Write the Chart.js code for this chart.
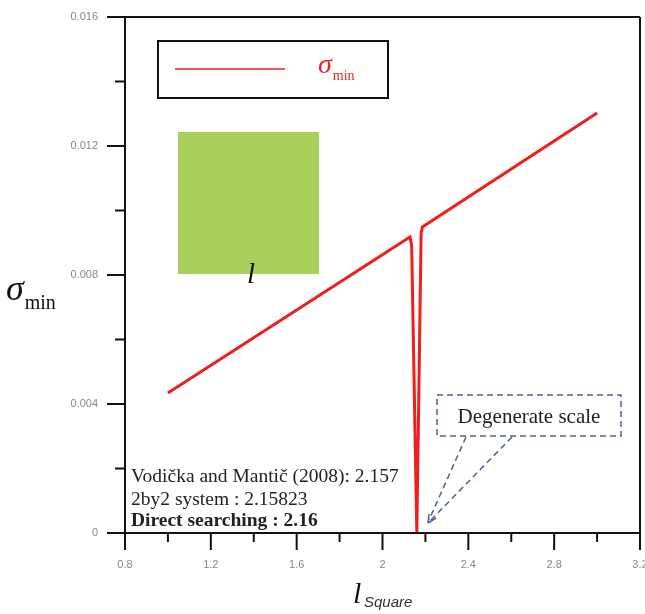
<!DOCTYPE html>
<html>
<head>
<meta charset="utf-8">
<script src="https://cdn.jsdelivr.net/npm/chart.js@4.4.1/dist/chart.umd.min.js"></script>
<style>
    html, body { margin: 0; padding: 0; background: #fff; }
    #wrap { width: 645px; height: 614px; position: relative; }
</style>
</head>
<body>
<div id="wrap"><canvas id="sigmaChart"></canvas></div>
<script>
// values
const lSquare = [1.0, 2.128, 2.136, 2.16, 2.18, 2.186, 3.0]
const sigmaMin = [0.00434, 0.00918, 0.0089, 0, 0.0093, 0.00949, 0.01302]
const xTicks = [0.8, 1.2, 1.6, 2.0, 2.4, 2.8, 3.2]
const xTickLabels = ['0.8', '1.2', '1.6', '2', '2.4', '2.8', '3.2']
const yTicks = [0, 0.004, 0.008, 0.012, 0.016]
const yTickLabels = ['0', '0.004', '0.008', '0.012', '0.016']
const noteLines = ['Vodička and Mantič (2008): 2.157', '2by2 system : 2.15823', 'Direct searching : 2.16']
const calloutText = 'Degenerate scale'

const RED = '#ee1f1f'
const SERIF = '"Liberation Serif", "DejaVu Serif", serif'
const SANS = '"Liberation Sans", Arial, sans-serif'

function midpoints(arr) {
    const res = []
    for (let i = 0; i < arr.length - 1; i++) res.push((arr[i] + arr[i + 1]) / 2)
    return res
}

function drawSigma(ctx, x, y, bigSize, smallSize, color) {
    ctx.fillStyle = color
    ctx.textAlign = 'left'
    ctx.textBaseline = 'alphabetic'
    ctx.font = `italic ${bigSize}px ${SERIF}`
    ctx.fillText('σ', x, y)
    const w = ctx.measureText('σ').width
    ctx.font = `${smallSize}px ${SERIF}`
    ctx.fillText('min', x + w + 1, y + bigSize * 0.24)
}

const decorPlugin = {
    id: 'decor',
    beforeDatasetsDraw(chart) {
        const ctx = chart.ctx
        // green square inset
        ctx.save()
        ctx.fillStyle = '#a9d05b'
        ctx.fillRect(178, 132, 141, 142)
        ctx.fillStyle = '#111'
        ctx.font = `italic 29px ${SERIF}`
        ctx.textAlign = 'center'
        ctx.fillText('l', 251, 283)
        ctx.restore()
    },
    afterDraw(chart) {
        const ctx = chart.ctx
        const { left, right, top, bottom } = chart.chartArea
        const xs = chart.scales.x
        const ys = chart.scales.y
        ctx.save()

        // frame
        ctx.strokeStyle = '#111'
        ctx.lineWidth = 2
        ctx.beginPath()
        ctx.moveTo(left - 18, top); ctx.lineTo(right, top)
        ctx.moveTo(left - 18, bottom); ctx.lineTo(right, bottom)
        ctx.moveTo(left, top); ctx.lineTo(left, bottom + 17)
        ctx.moveTo(right, top); ctx.lineTo(right, bottom + 17)
        xTicks.forEach(v => {
            const px = xs.getPixelForValue(v)
            ctx.moveTo(px, bottom); ctx.lineTo(px, bottom + 17)
        })
        midpoints(xTicks).forEach(v => {
            const px = xs.getPixelForValue(v)
            ctx.moveTo(px, bottom); ctx.lineTo(px, bottom + 9)
        })
        yTicks.forEach(v => {
            const py = ys.getPixelForValue(v)
            ctx.moveTo(left, py); ctx.lineTo(left - 18, py)
        })
        midpoints(yTicks).forEach(v => {
            const py = ys.getPixelForValue(v)
            ctx.moveTo(left, py); ctx.lineTo(left - 10, py)
        })
        ctx.stroke()

        // legend box
        ctx.lineWidth = 2
        ctx.strokeRect(158, 41, 230, 57)
        ctx.strokeStyle = RED
        ctx.lineWidth = 1.5
        ctx.beginPath()
        ctx.moveTo(175, 69); ctx.lineTo(285, 69)
        ctx.stroke()
        drawSigma(ctx, 318, 73, 28, 14, RED)

        // axis titles
        drawSigma(ctx, 6, 300, 36, 20, '#111')
        ctx.fillStyle = '#111'
        ctx.font = `italic 30px ${SERIF}`
        ctx.textAlign = 'left'
        ctx.fillText('l', 353, 603)
        ctx.fillStyle = '#333'
        ctx.font = `italic 15px ${SANS}`
        ctx.fillText('Square', 364, 607)

        // text block
        ctx.fillStyle = '#222'
        ctx.font = `19.5px ${SERIF}`
        ctx.fillText(noteLines[0], 131, 482)
        ctx.fillText(noteLines[1], 131, 505)
        ctx.font = `bold 19.5px ${SERIF}`
        ctx.fillText(noteLines[2], 131, 526)

        // callout
        ctx.strokeStyle = '#4d5f98'
        ctx.lineWidth = 1.5
        ctx.setLineDash([6, 4])
        ctx.strokeRect(437, 395, 184, 41)
        const tipX = 428, tipY = 523
        ctx.beginPath()
        ctx.moveTo(466, 437); ctx.lineTo(tipX + 1, tipY - 3)
        ctx.moveTo(512, 437); ctx.lineTo(tipX + 2, tipY - 2)
        ctx.stroke()
        ctx.setLineDash([])
        ctx.beginPath()
        ctx.moveTo(tipX, tipY)
        ctx.lineTo(tipX + 1, tipY - 9)
        ctx.moveTo(tipX, tipY)
        ctx.lineTo(tipX + 8, tipY - 5)
        ctx.stroke()
        ctx.fillStyle = '#222'
        ctx.font = `21px ${SERIF}`
        ctx.textAlign = 'center'
        ctx.fillText(calloutText, 529, 423)

        ctx.restore()
    }
}

const ctx = document.getElementById('sigmaChart').getContext('2d')
new Chart(ctx, {
    type: 'line',
    data: {
        datasets: [{
            label: 'σmin',
            data: lSquare.map((x, i) => ({ x, y: sigmaMin[i] })),
            borderColor: RED,
            borderWidth: 3,
            pointRadius: 0,
            tension: 0,
            fill: false
        }]
    },
    options: {
        responsive: true,
        maintainAspectRatio: false,
        animation: false,
        layout: { padding: { top: 17, right: 5, left: 0, bottom: 0 } },
        plugins: {
            legend: { display: false },
            tooltip: { enabled: false }
        },
        scales: {
            x: {
                type: 'linear',
                min: 0.8,
                max: 3.2,
                afterBuildTicks: s => { s.ticks = xTicks.map(v => ({ value: v })) },
                afterFit: s => { s.height = 81; s.paddingLeft = 0; s.paddingRight = 0 },
                grid: { display: false, drawTicks: false },
                border: { display: false },
                ticks: {
                    autoSkip: false,
                    maxRotation: 0,
                    padding: 25,
                    color: '#888',
                    font: { family: SANS, size: 11 },
                    callback: (v, i) => xTickLabels[i]
                }
            },
            y: {
                min: 0,
                max: 0.016,
                afterBuildTicks: s => { s.ticks = yTicks.map(v => ({ value: v })) },
                afterFit: s => { s.width = 125; s.paddingTop = 0; s.paddingBottom = 0 },
                grid: { display: false, drawTicks: false },
                border: { display: false },
                ticks: {
                    autoSkip: false,
                    padding: 27,
                    color: '#888',
                    font: { family: SANS, size: 11 },
                    callback: (v, i) => yTickLabels[i]
                }
            }
        }
    },
    plugins: [decorPlugin]
})
</script>
</body>
</html>
